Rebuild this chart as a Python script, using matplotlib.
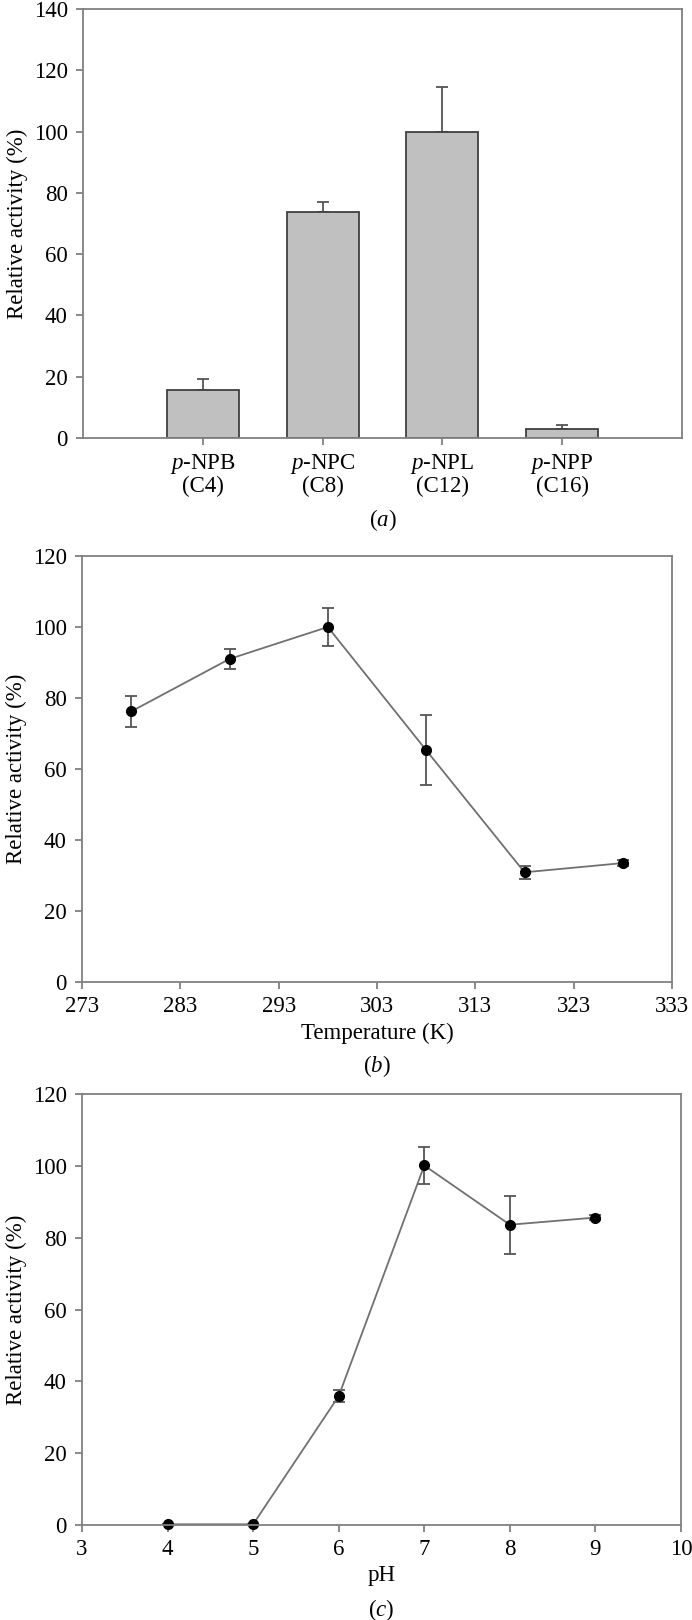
import matplotlib
matplotlib.use("Agg")
import matplotlib.pyplot as plt
import numpy as np

plt.rcParams.update({
    "font.family": "serif",
    "font.serif": ["Liberation Serif", "Times New Roman", "DejaVu Serif"],
    "font.size": 16.5,
    "mathtext.fontset": "custom",
    "mathtext.rm": "Liberation Serif",
    "mathtext.it": "Liberation Serif:italic",
})

# ── Data ───────────────────────────────────────────────────────────────────────
substrates = ["$p$-NPB\n(C4)", "$p$-NPC\n(C8)", "$p$-NPL\n(C12)", "$p$-NPP\n(C16)"]
substrate_act = [15.7, 73.8, 100.0, 2.9]
substrate_err = [3.6, 3.2, 14.6, 1.3]

temps = [278, 288, 298, 308, 318, 328]
temp_act = [76.2, 91.0, 100.0, 65.3, 30.9, 33.5]
temp_err = [4.5, 2.9, 5.4, 9.9, 1.8, 0.9]

ph = [4, 5, 6, 7, 8, 9]
ph_act = [0.2, 0.2, 35.9, 100.1, 83.6, 85.6]
ph_err = [0.0, 0.0, 1.7, 5.2, 8.1, 0.8]

# ── Styling ────────────────────────────────────────────────────────────────────
W, H = 692, 1620
FRAME = "#808080"
LINE = "#707070"
ERR = "#555555"


def rect(left, top, right, bottom):
    return [left / W, 1 - bottom / H, (right - left) / W, (bottom - top) / H]


def style(ax):
    for s in ax.spines.values():
        s.set_color(FRAME)
        s.set_linewidth(1.3)
    ax.tick_params(direction="out", length=5, width=1.3, color=FRAME,
                   labelcolor="black", top=False, right=False)
    ax.tick_params(axis="y", pad=6)
    ax.tick_params(axis="x", pad=5)


fig = plt.figure(figsize=(W / 100, H / 100), dpi=100)

# ── (a) substrate specificity ──────────────────────────────────────────────────
ax1 = fig.add_axes(rect(83, 9, 682, 438))
pos = np.arange(1, len(substrates) + 1)
ax1.bar(pos, substrate_act, width=0.6, color="#c0c0c0", edgecolor="#404040",
        linewidth=1.3, zorder=2)
ax1.errorbar(pos, substrate_act, yerr=[np.zeros(len(pos)), substrate_err],
             fmt="none", ecolor=ERR, elinewidth=1.3, capsize=4.5, capthick=1.3,
             zorder=1)
ax1.set_xlim(0, 5)
ax1.set_ylim(0, 140)
ax1.set_yticks(range(0, 141, 20))
ax1.set_xticks(pos)
ax1.set_xticklabels(substrates, linespacing=1.0)
ax1.set_ylabel("Relative activity (%)", labelpad=4)
style(ax1)
fig.text(0.5 * (83 + 682) / W, 1 - 520 / H, "($a$)", ha="center", va="center")

# ── (b) temperature ────────────────────────────────────────────────────────────
ax2 = fig.add_axes(rect(82, 556, 672, 982))
ax2.errorbar(temps, temp_act, yerr=temp_err, fmt="none", ecolor=ERR,
             elinewidth=1.3, capsize=4.5, capthick=1.3, zorder=1)
ax2.plot(temps, temp_act, color=LINE, lw=1.3, marker="o", ms=7,
         mfc="black", mec="black", zorder=2)
ax2.set_xlim(273, 333)
ax2.set_ylim(0, 120)
ax2.set_xticks(range(273, 334, 10))
ax2.set_yticks(range(0, 121, 20))
ax2.set_xlabel("Temperature (K)", labelpad=4)
ax2.set_ylabel("Relative activity (%)", labelpad=4)
style(ax2)
fig.text(0.5 * (82 + 672) / W, 1 - 1066 / H, "($b$)", ha="center", va="center")

# ── (c) pH ─────────────────────────────────────────────────────────────────────
ax3 = fig.add_axes(rect(82, 1094, 681, 1525))
ax3.errorbar(ph, ph_act, yerr=ph_err, fmt="none", ecolor=ERR,
             elinewidth=1.3, capsize=4.5, capthick=1.3, zorder=1)
ax3.plot(ph, ph_act, color=LINE, lw=1.3, marker="o", ms=7,
         mfc="black", mec="black", zorder=2, clip_on=False)
ax3.set_xlim(3, 10)
ax3.set_ylim(0, 120)
ax3.set_xticks(range(3, 11))
ax3.set_yticks(range(0, 121, 20))
ax3.set_xlabel("pH", labelpad=4)
ax3.set_ylabel("Relative activity (%)", labelpad=4)
style(ax3)
fig.text(0.5 * (82 + 681) / W, 1 - 1610 / H, "($c$)", ha="center", va="center")

fig.savefig("out.png", dpi=100)
